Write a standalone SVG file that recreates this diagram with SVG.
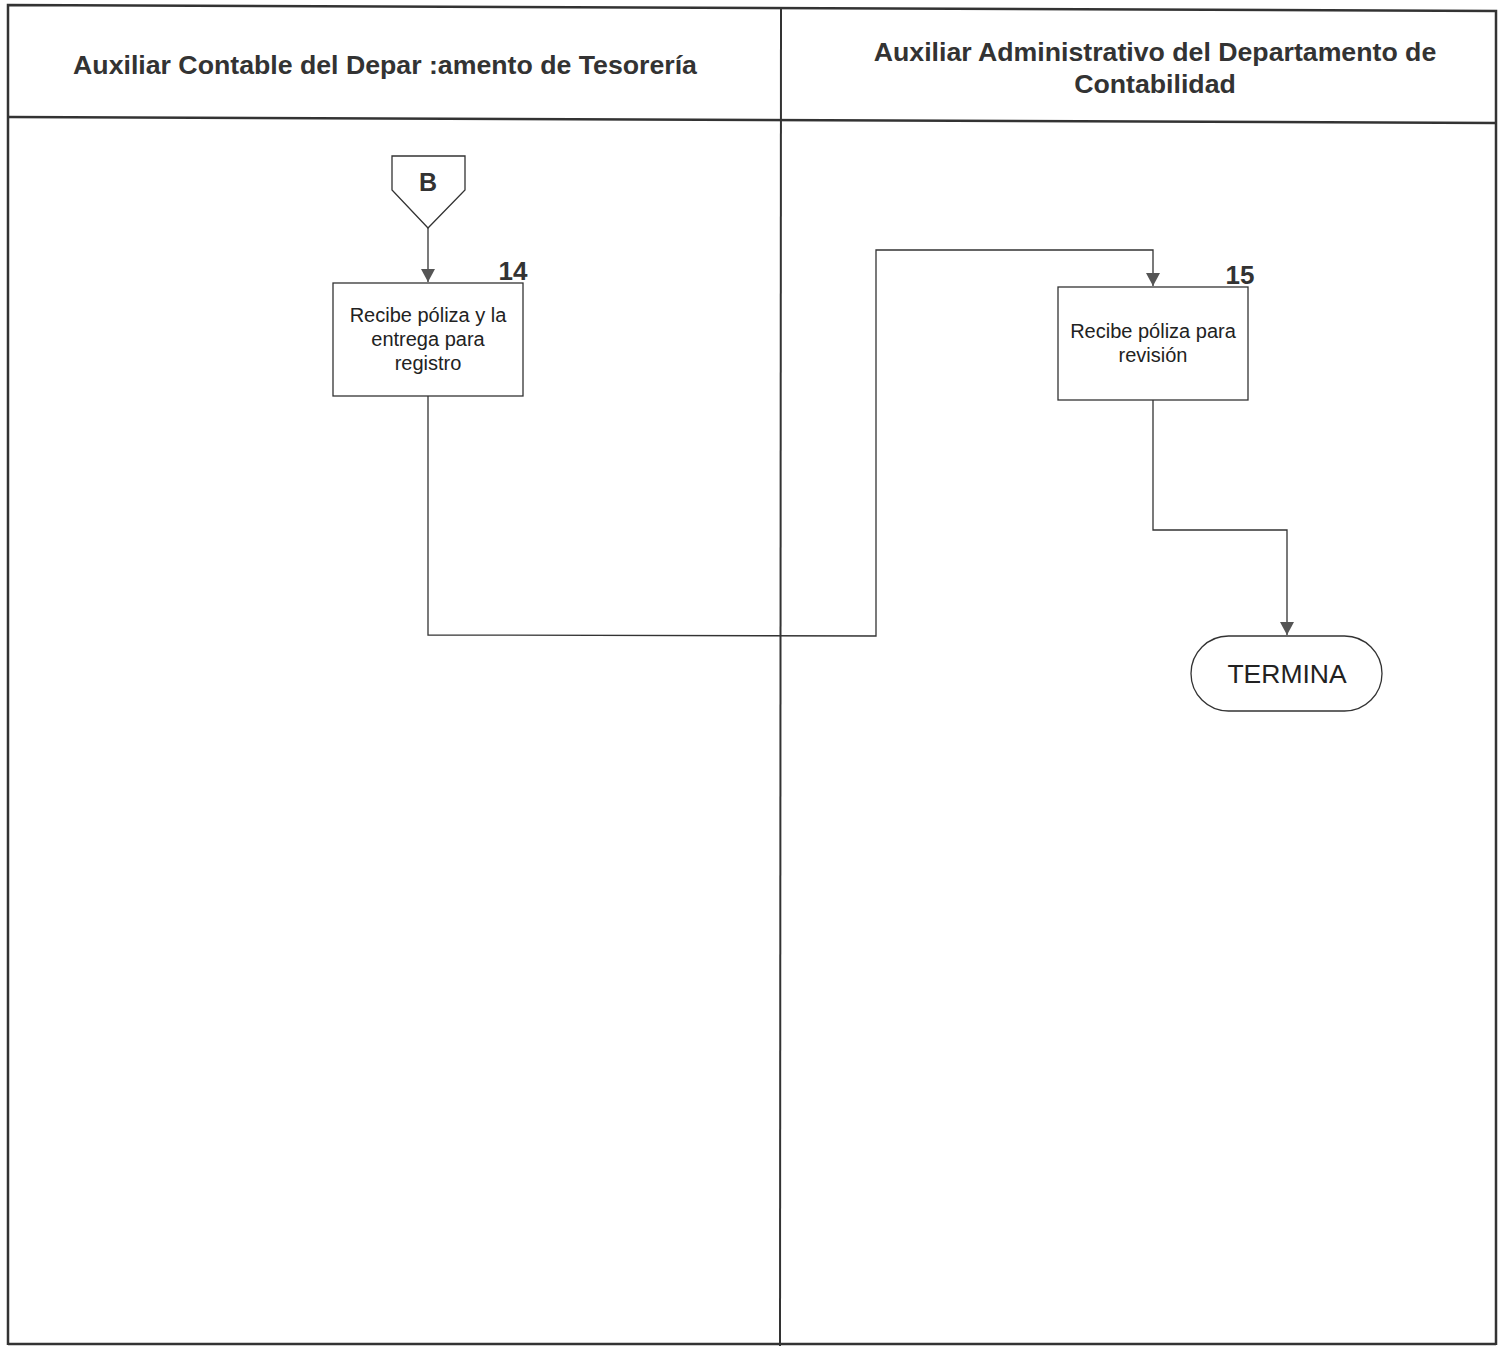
<svg xmlns="http://www.w3.org/2000/svg" width="1503" height="1346" viewBox="0 0 1503 1346">
<style>
.frame{fill:none;stroke:#333;stroke-width:2.5}
.shape{fill:#fff;stroke:#333;stroke-width:1.3}
.conn{fill:none;stroke:#333;stroke-width:1.3}
.hdr{font-family:"Liberation Sans",Arial,sans-serif;font-weight:bold;font-size:26.7px;fill:#333;text-anchor:middle}
.lbl{font-family:"Liberation Sans",Arial,sans-serif;font-size:20px;fill:#222;text-anchor:middle}
.num{font-family:"Liberation Sans",Arial,sans-serif;font-weight:bold;font-size:26px;fill:#333;text-anchor:middle}
.term{font-family:"Liberation Sans",Arial,sans-serif;font-size:26.5px;fill:#222;text-anchor:middle}
</style>
<defs>
<marker id="arrd" markerWidth="14" markerHeight="14" refX="7" refY="13" markerUnits="userSpaceOnUse" viewBox="0 0 14 14">
<path d="M0,0 L14,0 L7,13 Z" fill="#555"/>
</marker>
</defs>
<rect width="1503" height="1346" fill="#fff"/>
<g id="lanes">
<polyline class="frame" points="8,1345 8,5 1496,11 1496,1345"/>
<line class="frame" x1="8" y1="1344" x2="1496" y2="1344"/>
<line class="frame" x1="8" y1="117" x2="1496" y2="123"/>
<line x1="781" y1="8" x2="780" y2="1346" stroke="#333" stroke-width="2"/>
<text class="hdr" x="385" y="74">Auxiliar Contable del Depar :amento de Tesorería</text>
<text class="hdr" x="1155" y="61">Auxiliar Administrativo del Departamento de</text>
<text class="hdr" x="1155" y="93">Contabilidad</text>
</g>
<g id="connectors">
<line class="conn" x1="428" y1="228" x2="428" y2="282" marker-end="url(#arrd)"/>
<polyline class="conn" points="428,396 428,635 876,636 876,250 1153,250 1153,286" marker-end="url(#arrd)"/>
<polyline class="conn" points="1153,400 1153,530 1287,530 1287,635" marker-end="url(#arrd)"/>
</g>
<g id="node-B">
<polygon class="shape" points="392,156 465,156 465,190 428,228 392,190"/>
<text class="num" x="428" y="191" style="font-size:25px">B</text>
</g>
<g id="node-14">
<rect class="shape" x="333" y="283" width="190" height="113"/>
<text class="num" x="513" y="280">14</text>
<text class="lbl" x="428" y="322">Recibe póliza y la</text>
<text class="lbl" x="428" y="346">entrega para</text>
<text class="lbl" x="428" y="370">registro</text>
</g>
<g id="node-15">
<rect class="shape" x="1058" y="287" width="190" height="113"/>
<text class="num" x="1240" y="284">15</text>
<text class="lbl" x="1153" y="338">Recibe póliza para</text>
<text class="lbl" x="1153" y="362">revisión</text>
</g>
<g id="node-termina">
<rect class="shape" x="1191" y="636" width="191" height="75" rx="37.5" ry="37.5"/>
<text class="term" x="1287" y="683">TERMINA</text>
</g>
</svg>
